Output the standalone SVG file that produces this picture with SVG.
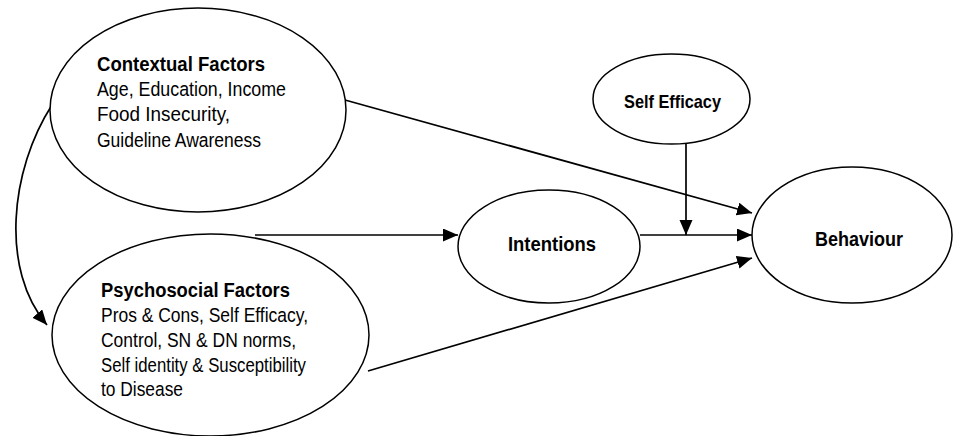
<svg xmlns="http://www.w3.org/2000/svg" width="953" height="436" viewBox="0 0 953 436">
<style>
.node{fill:#fff;stroke:#000;stroke-width:1.5}
.c{fill:none;stroke:#000;stroke-width:1.7}
.t{font-family:"Liberation Sans",Arial,sans-serif;font-size:20.5px;fill:#000}
.b{font-weight:bold;font-size:19.5px}
</style>
<defs>
<marker id="ah" markerUnits="userSpaceOnUse" markerWidth="16" markerHeight="14" refX="15" refY="6.5" orient="auto">
<path d="M0,0 L15,6.5 L0,13 z" fill="#000"/>
</marker>
</defs>
<rect width="953" height="436" fill="#fff"/>
<g id="connectors">
<path class="c" d="M52,105 C10,170 0,270 47,325" marker-end="url(#ah)"/>
<line class="c" x1="345" y1="100" x2="752" y2="213" marker-end="url(#ah)"/>
<line class="c" x1="255" y1="235" x2="458" y2="235" marker-end="url(#ah)"/>
<line class="c" x1="640" y1="235" x2="752" y2="235" marker-end="url(#ah)"/>
<line class="c" x1="686" y1="144" x2="686" y2="235" marker-end="url(#ah)"/>
<line class="c" x1="368" y1="371" x2="752" y2="258" marker-end="url(#ah)"/>
</g>
<g id="contextual">
<ellipse class="node" cx="198" cy="110" rx="148" ry="102"/>
<text class="t b" x="97" y="71" textLength="168" lengthAdjust="spacingAndGlyphs">Contextual Factors</text>
<text class="t" x="97" y="96" textLength="189" lengthAdjust="spacingAndGlyphs">Age, Education, Income</text>
<text class="t" x="97" y="121" textLength="133" lengthAdjust="spacingAndGlyphs">Food Insecurity,</text>
<text class="t" x="97" y="147" textLength="164" lengthAdjust="spacingAndGlyphs">Guideline Awareness</text>
</g>
<g id="psychosocial">
<ellipse class="node" cx="210.5" cy="335" rx="158.5" ry="101"/>
<text class="t b" x="101" y="297" textLength="189" lengthAdjust="spacingAndGlyphs">Psychosocial Factors</text>
<text class="t" x="101" y="322" textLength="207" lengthAdjust="spacingAndGlyphs">Pros &amp; Cons, Self Efficacy,</text>
<text class="t" x="101" y="347" textLength="195" lengthAdjust="spacingAndGlyphs">Control, SN &amp; DN norms,</text>
<text class="t" x="101" y="372" textLength="205" lengthAdjust="spacingAndGlyphs">Self identity &amp; Susceptibility</text>
<text class="t" x="101" y="396" textLength="82" lengthAdjust="spacingAndGlyphs">to Disease</text>
</g>
<g id="selfefficacy">
<ellipse class="node" cx="671.5" cy="99" rx="78.5" ry="45"/>
<text class="t b" x="624" y="108" style="font-size:18.5px" textLength="97" lengthAdjust="spacingAndGlyphs">Self Efficacy</text>
</g>
<g id="intentions">
<ellipse class="node" cx="549" cy="246.5" rx="91" ry="56.5"/>
<text class="t b" x="508" y="251" style="font-size:21px" textLength="88" lengthAdjust="spacingAndGlyphs">Intentions</text>
</g>
<g id="behaviour">
<ellipse class="node" cx="852" cy="235" rx="100" ry="68"/>
<text class="t b" x="815" y="246" style="font-size:21px" textLength="88" lengthAdjust="spacingAndGlyphs">Behaviour</text>
</g>
</svg>
